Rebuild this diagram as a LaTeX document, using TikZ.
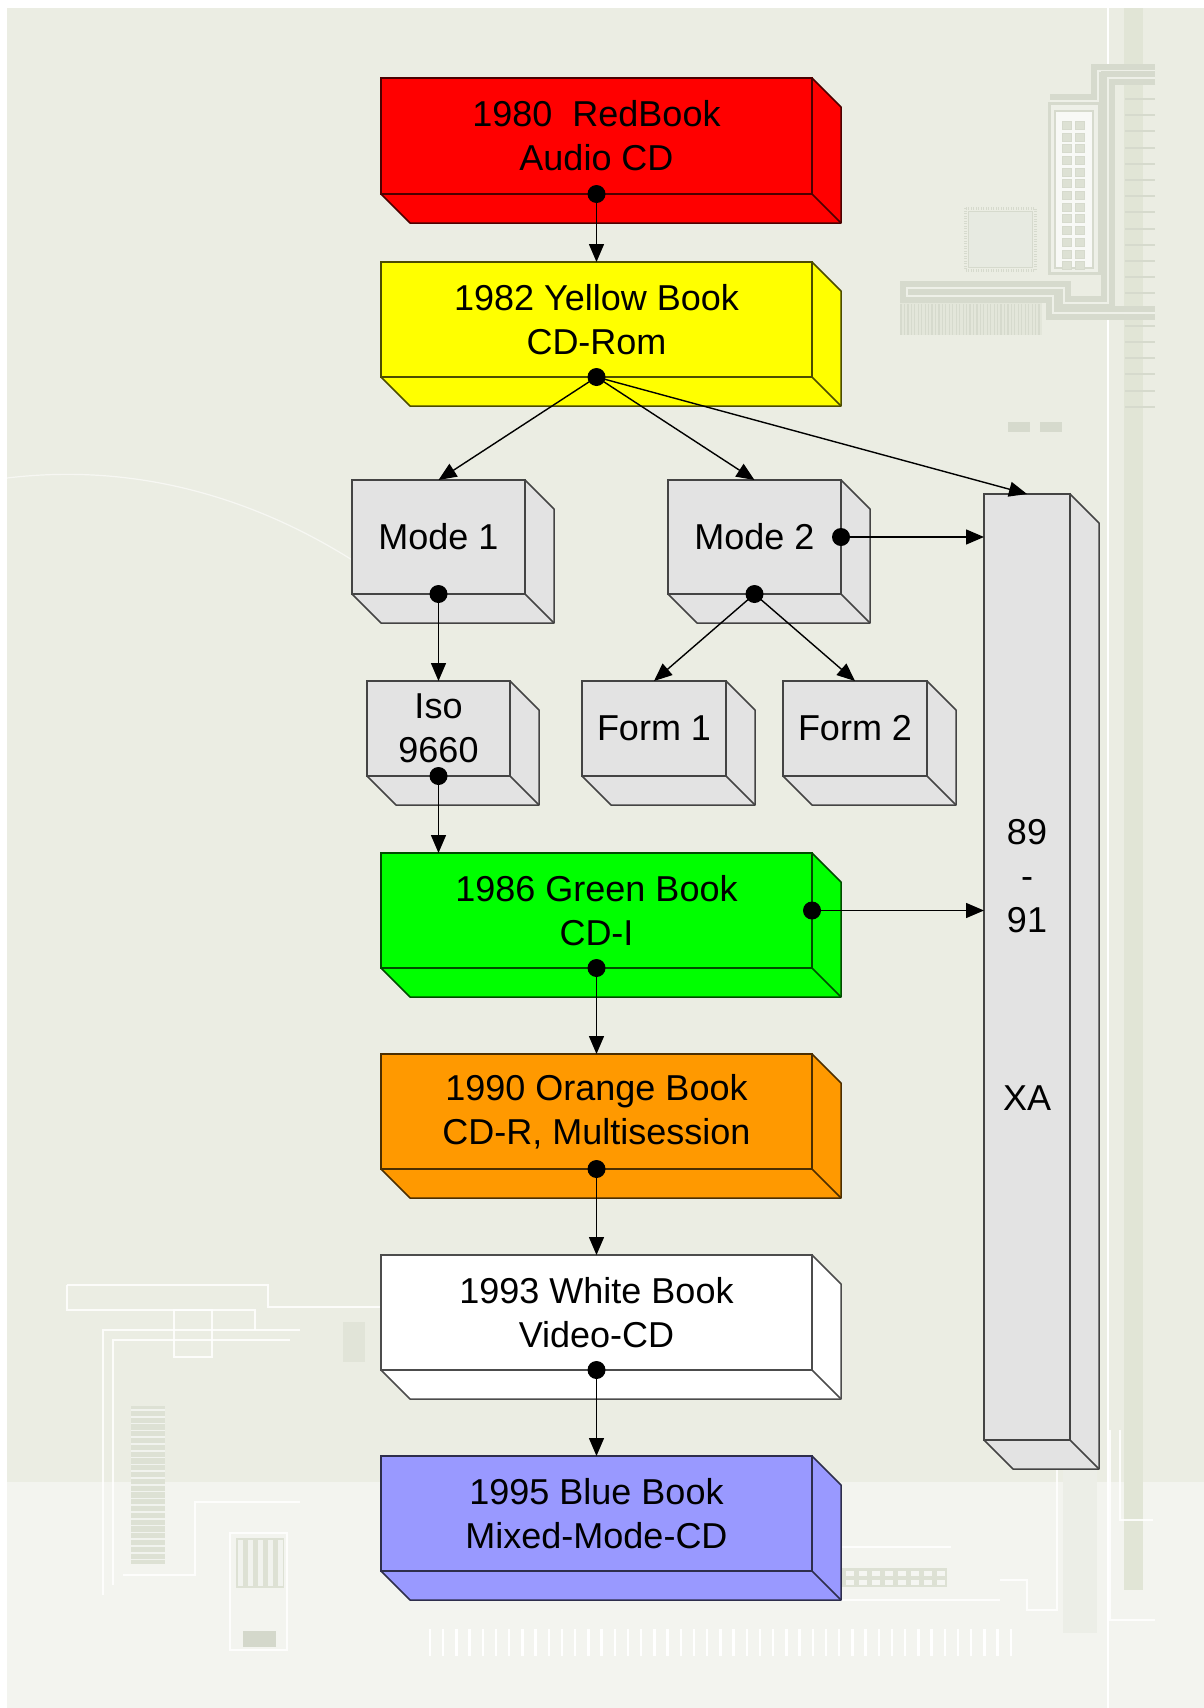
\documentclass[tikz,border=0pt]{standalone}
\usepackage{fontspec}
\setmainfont{Liberation Sans}
\usetikzlibrary{arrows.meta}
\definecolor{bgmain}{HTML}{EBEDE3}
\definecolor{bglow}{HTML}{F3F4EF}
\definecolor{boxgrey}{HTML}{E3E3E3}
\definecolor{cdred}{HTML}{FF0000}
\definecolor{cdyellow}{HTML}{FFFF00}
\definecolor{cdgreen}{HTML}{00FF00}
\definecolor{cdorange}{HTML}{FF9900}
\definecolor{cdwhite}{HTML}{FFFFFF}
\definecolor{cdblue}{HTML}{9999FF}
\definecolor{trc}{HTML}{D6DACD}
\definecolor{trin}{HTML}{EEF0E8}
\definecolor{decor}{HTML}{DDE1D4}
\definecolor{stripc}{HTML}{E1E5D6}
\tikzset{
  face/.style={draw, line width=1.5pt, outer sep=0pt, inner sep=0pt, align=center,
    font=\fontsize{36}{44}\selectfont, text=black},
  lbl/.style={align=center, font=\fontsize{36}{44}\selectfont, text=black, inner sep=0pt},
  conn/.style={line width=1.4pt, draw=black, -{Triangle[length=18pt,width=15pt]}},
  trace/.style={draw=trc, line width=6pt, double=trin, double distance=2.5pt, line join=miter},
  wtrace/.style={draw=white, line width=2pt, opacity=0.85},
}
% #1 name, #2 cx, #3 cy, #4 width, #5 height, #6 colour, #7 text
\newcommand{\cdbox}[7]{%
  \node[face, fill=#6, draw=#6!30!black, minimum width=#4pt, minimum height=#5pt] (#1) at (#2,#3) {#7};
  \filldraw[fill=#6, draw=#6!30!black, line width=1.5pt, line join=round]
    (#1.north east) -- ++(29,29) -- ([shift={(29,29)}]#1.south east)
    -- ([shift={(29,29)}]#1.south west) -- (#1.south west) -- (#1.south east) -- cycle;
  \draw[draw=#6!30!black, line width=1.5pt] (#1.south east) -- ++(29,29);
}
\begin{document}
\begin{tikzpicture}[x=1pt,y=-1pt]
\useasboundingbox (0,0) rectangle (1204,1708);
% ---------- background ----------
\fill[white] (0,0) rectangle (1204,1708);
\fill[bgmain] (7,8) rectangle (1204,1708);
\fill[bglow] (7,1482) rectangle (1204,1708);
\draw[white, opacity=0.6, line width=1.2pt] (7,478) .. controls (140,462) and (260,500) .. (360,565);
% right strip and ticks
\fill[stripc] (1124,8) rectangle (1143,1590);
\draw[white, line width=1.5pt] (1108,8) -- (1108,1708);
\foreach \i in {0,...,19} \draw[trc, line width=2pt] (1125,{99+16.2*\i}) -- (1155,{99+16.2*\i});
% traces
\draw[trace] (1155,71) -- (1098,71) -- (1098,101) -- (1050,101);
\draw[trace] (1155,78) -- (1108,78) -- (1108,303) -- (1064,303) -- (1064,288) -- (907,288) -- (907,296) -- (1053,296) -- (1053,313) -- (1155,313);
% connector block
\draw[trc, line width=3pt, fill=trin] (1049,103) rectangle (1099,273);
\draw[trc, line width=2pt, fill=white!60!trin] (1055,111) rectangle (1093,268);
\foreach \r in {0,...,12} {
  \filldraw[fill=decor, draw=trc] (1062,{121+11.7*\r}) rectangle ++(9,8);
  \filldraw[fill=decor, draw=trc] (1075,{121+11.7*\r}) rectangle ++(9,8);
}
% chip
\draw[trc, line width=3pt, dash pattern=on 1pt off 1.5pt] (965,208) rectangle (1035,270);
\filldraw[fill=decor!70!white, draw=trc, line width=1pt] (968,211) rectangle (1032,267);
% pin header
\fill[decor!60!bgmain] (900,303) rectangle (1042,335);
\foreach \i in {0,...,40} \draw[trc, line width=1.2pt] ({901+3.45*\i},304) -- ++(0,31);
% small marks
\fill[trc] (1008,422) rectangle (1030,432);
\fill[trc] (1040,422) rectangle (1062,432);
% bottom right decorations
\fill[decor!30!bglow] (1063,1470) rectangle (1097,1633);
\draw[wtrace] (1000,1580) -- (1027,1580) -- (1027,1610) -- (1057,1610) -- (1057,1470);
\draw[wtrace] (1110,1430) -- (1110,1620) -- (1155,1620);
\draw[wtrace] (1120,1430) -- (1120,1520) -- (1153,1520);
\draw[wtrace] (840,1547) -- (951,1547);
\draw[wtrace] (785,1600) -- (1000,1600);
\fill[decor] (842,1568) rectangle (947,1587);
\foreach \i in {0,...,7} {
  \fill[white!70!decor] ({846+13*\i},1571) rectangle ++(8,5);
  \fill[white!70!decor] ({846+13*\i},1580) rectangle ++(8,5);
}
% bottom dashes
\foreach \i in {0,...,44} \draw[white, line width=2.5pt] ({430+13.2*\i},1629) -- ++(0,27);
% bottom left decorations
\draw[wtrace] (67,1285) -- (268,1285) -- (268,1307) -- (380,1307);
\draw[wtrace] (67,1285) -- (67,1310) -- (255,1310) -- (255,1330);
\draw[wtrace] (174,1310) rectangle (212,1357);
\fill[decor!70!bgmain] (343,1322) rectangle (365,1362);
\draw[wtrace] (103,1595) -- (103,1330) -- (300,1330);
\draw[wtrace] (113,1585) -- (113,1340) -- (290,1340);
\draw[wtrace] (123,1575) -- (195,1575) -- (195,1502) -- (300,1502);
\fill[decor] (131,1406) rectangle (165,1564);
\foreach \i in {0,...,22} \draw[white!60!decor, line width=1.5pt] (131,{1410+6.8*\i}) -- (165,{1410+6.8*\i});
\draw[wtrace] (230,1533) rectangle (287,1650);
\fill[decor] (236,1538) rectangle (284,1588);
\foreach \i in {0,...,4} \fill[white!60!decor] ({238+10*\i},1540) rectangle ++(5,46);
\fill[decor!80!black!20!decor] (243,1631) rectangle (276,1647);
% ---------- boxes ----------
\cdbox{nRed}{596.5}{136}{431}{116}{cdred}{1980\ \ RedBook\\Audio CD}
\cdbox{nYellow}{596.5}{319.5}{431}{115}{cdyellow}{1982 Yellow Book\\CD-Rom}
\cdbox{nModeA}{438.5}{537}{173}{114}{boxgrey}{Mode 1}
\cdbox{nModeB}{754.5}{537}{173}{114}{boxgrey}{Mode 2}
\cdbox{nXA}{1027}{967}{86}{946}{boxgrey}{}
\cdbox{nIso}{438.5}{728.5}{143}{95}{boxgrey}{Iso\\9660}
\cdbox{nFormA}{654}{728.5}{144}{95}{boxgrey}{Form 1}
\cdbox{nFormB}{855}{728.5}{144}{95}{boxgrey}{Form 2}
\cdbox{nGreen}{596.5}{910.5}{431}{115}{cdgreen}{1986 Green Book\\CD-I}
\cdbox{nOrange}{596.5}{1111.5}{431}{115}{cdorange}{1990 Orange Book\\CD-R, Multisession}
\cdbox{nWhite}{596.5}{1312.5}{431}{115}{cdwhite}{1993 White Book\\Video-CD}
\cdbox{nBlue}{596.5}{1513.5}{431}{115}{cdblue}{1995 Blue Book\\Mixed-Mode-CD}
\node[lbl] (xaYears) at (1027,876) {89\\-\\91};
\node[lbl] (xaName) at (1027,1098) {XA};
% ---------- connectors ----------
\draw[conn] (nRed.south) -- (nYellow.north);
\draw[conn] (nYellow.south) -- (nModeA.north);
\draw[conn] (nYellow.south) -- (nModeB.north);
\draw[conn] (nYellow.south) -- (nXA.north);
\draw[conn] (nModeB.east) -- (nModeB.east -| nXA.west);
\draw[conn] (nModeA.south) -- (nIso.north);
\draw[conn] (nModeB.south) -- (nFormA.north);
\draw[conn] (nModeB.south) -- (nFormB.north);
\draw[conn] (nIso.south) -- (nIso.south |- nGreen.north);
\draw[conn] (nGreen.east) -- (nGreen.east -| nXA.west);
\draw[conn] (nGreen.south) -- (nOrange.north);
\draw[conn] (nOrange.south) -- (nWhite.north);
\draw[conn] (nWhite.south) -- (nBlue.north);
\foreach \p in {nRed.south, nYellow.south, nModeA.south, nModeB.south, nModeB.east,
  nIso.south, nGreen.east, nGreen.south, nOrange.south, nWhite.south}
  \fill (\p) circle (9pt);
\end{tikzpicture}
\end{document}
